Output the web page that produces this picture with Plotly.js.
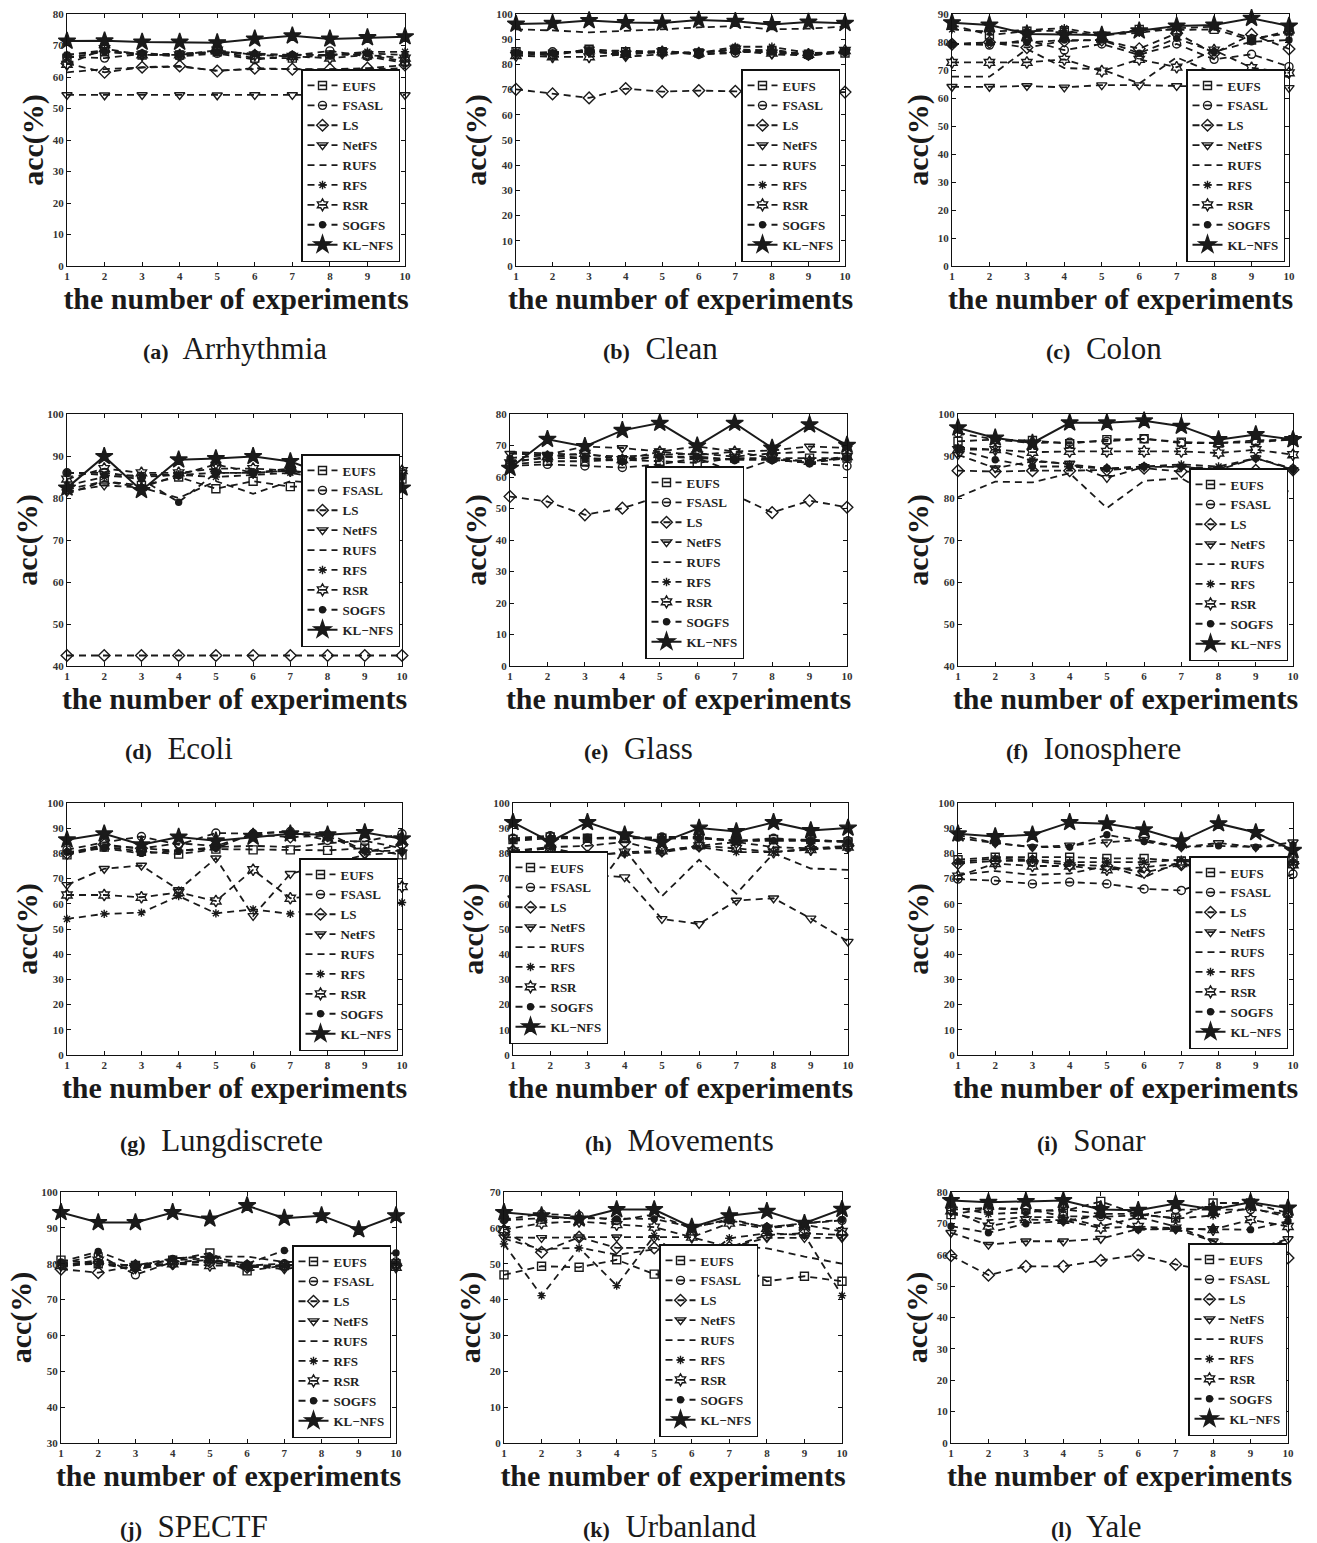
<!DOCTYPE html>
<html>
<head>
<meta charset="utf-8">
<script src="https://cdn.plot.ly/plotly-3.0.1.min.js"></script>
<style>
  html, body { margin: 0; padding: 0; background: #ffffff; }
  #chart { width: 1317px; height: 1543px; }
</style>
</head>
<body>
<div id="chart"></div>
<script>
// ---------------- DATA ----------------
const experiments = [1, 2, 3, 4, 5, 6, 7, 8, 9, 10];
const methods = ['EUFS', 'FSASL', 'LS', 'NetFS', 'RUFS', 'RFS', 'RSR', 'SOGFS', 'KL\u2212NFS'];
const panelLabels = ['(a)', '(b)', '(c)', '(d)', '(e)', '(f)', '(g)', '(h)', '(i)', '(j)', '(k)', '(l)'];
const datasetNames = ['Arrhythmia', 'Clean', 'Colon', 'Ecoli', 'Glass', 'Ionosphere',
                      'Lungdiscrete', 'Movements', 'Sonar', 'SPECTF', 'Urbanland', 'Yale'];
const xTitle = 'the number of experiments';
const yTitle = 'acc(%)';

// accuracy (%) per method, rows in the order of `methods`
const accArrhythmia = [
  [66, 68, 67, 67, 68, 66, 66, 67, 67, 65],
  [66.5, 66, 67.3, 66.5, 67.5, 65.5, 66.8, 68.3, 66.5, 64.5],
  [64.3, 61.5, 63.1, 63.5, 61.9, 62.8, 62.5, 62.5, 62.8, 63.8],
  [54.3, 54.2, 54.3, 54.3, 54.2, 54.3, 54.3, 54.2, 54.3, 54.3],
  [61.5, 62.5, 63, 63.3, 62, 62.5, 62.5, 62.3, 62.5, 62.8],
  [67, 68.5, 67, 67.5, 68, 67, 67, 67, 68, 68],
  [64, 69, 67, 67, 68.5, 67, 66.5, 66, 67, 66],
  [67, 68, 67.5, 67, 68, 67.5, 67, 67, 67.5, 67],
  [71.4, 71.5, 71.1, 71.1, 70.9, 72.1, 73.1, 72.1, 72.5, 72.8]
];
const accClean = [
  [85, 84, 86, 85, 85, 84.5, 86, 85.5, 84, 84.5],
  [84, 85, 85, 84, 85, 84, 84.5, 86, 83.5, 85],
  [70.1, 68.3, 66.7, 70.4, 69.2, 69.6, 69.3, 68.7, 68.7, 69.0],
  [84.5, 83.5, 86, 83, 84, 85, 85.5, 84, 83.5, 85],
  [93.9, 93.5, 92.7, 93.2, 93.9, 94.7, 95.2, 93.9, 94.2, 95.0],
  [85, 84.5, 85.5, 85.5, 85, 84.5, 87, 87, 84.5, 85],
  [83.5, 83, 83, 84, 85, 84.5, 86, 84.5, 84, 85.5],
  [84.5, 84.5, 85, 84.5, 85.5, 84, 85, 85, 84, 85],
  [96.0, 96.3, 97.4, 96.6, 96.4, 97.6, 97.1, 95.8, 96.8, 96.3]
];
const accColon = [
  [86.1, 82.5, 83.9, 84, 82.1, 84.5, 84.3, 84.5, 80.7, 84],
  [79.3, 78.9, 80.7, 77.1, 79.3, 75.4, 79.3, 73.8, 75.6, 71.2],
  [79.2, 79.9, 78.0, 80.4, 80.7, 77.6, 83.1, 76, 82.7, 77.5],
  [64.0, 64.0, 64.3, 63.8, 64.6, 64.6, 64.3, 64.0, 64.3, 63.6],
  [67.6, 67.6, 77.5, 70.7, 70.2, 65.2, 74.5, 68.9, 69.5, 67.5],
  [84.5, 83.7, 84.3, 84.9, 82.5, 83.3, 84.9, 85.5, 81.3, 83.1],
  [72.7, 72.7, 72.7, 73.8, 69.6, 73.8, 71.0, 77.1, 70.8, 69.0],
  [79.2, 79.8, 79.8, 80.7, 80.7, 76, 81.3, 76.5, 80.1, 80.7],
  [86.9, 86.1, 82.9, 82.6, 82.5, 84.0, 85.7, 86.1, 88.5, 85.7]
];
const accEcoli = [
  [82, 84, 83, 85, 82.2, 84, 82.7, 82.7, 82, 84.5],
  [86, 86, 85, 85.5, 86, 86, 86.5, 85.5, 86, 86],
  [42.5, 42.5, 42.5, 42.5, 42.5, 42.5, 42.5, 42.5, 42.5, 42.5],
  [81.5, 83, 82.5, 85.5, 88, 86, 87, 85, 85, 86],
  [81, 84, 82.5, 80, 84, 81, 84, 83.5, 84, 84],
  [83, 85, 85.5, 85.5, 85, 85.5, 86, 84.5, 85, 85.5],
  [84.5, 87, 86, 86, 87, 87, 86.5, 85, 85, 86.5],
  [86, 85.5, 84.5, 79, 86, 86, 86.5, 85.5, 85.5, 85],
  [82.4, 89.9, 81.8, 89.1, 89.4, 89.9, 88.7, 85.5, 85.2, 82.4]
];
const accGlass = [
  [64, 65, 65, 65.5, 65, 64.5, 66, 66, 66, 66],
  [63.5, 64, 63.5, 63, 64, 66, 65.5, 65.5, 64.5, 63.5],
  [53.8, 52.2, 48.0, 50.1, 53.8, 53.8, 54.3, 48.7, 52.5, 50.4],
  [67.4, 67.1, 69.7, 69.2, 68.1, 69.7, 68.1, 68.4, 69.7, 69.2],
  [68, 67.5, 67, 66.5, 67, 67.5, 66.5, 67.5, 68, 67.5],
  [65, 66, 66, 65.5, 66.5, 66, 61.5, 65.5, 65, 66],
  [64.5, 66.5, 67.5, 65.5, 68, 67, 68, 66, 65, 66.5],
  [66, 67, 66, 65, 66.5, 66.5, 65.5, 65.5, 64.5, 66],
  [62.8, 72.0, 69.7, 74.8, 77.1, 69.9, 77.1, 69.2, 76.6, 70.1]
];
const accIonosphere = [
  [93.5, 93.9, 93.7, 92.9, 93.9, 94.1, 93.3, 93.1, 93.7, 93.9],
  [95.5, 93.9, 93.1, 93.3, 93.5, 94.1, 93.1, 93.1, 93.3, 93.9],
  [86.5, 86.3, 86.5, 86.5, 86.7, 87.1, 86.3, 86.3, 86.6, 86.7],
  [90.3, 87.1, 88.7, 88.2, 84.8, 87.4, 87.4, 86.7, 89.5, 86.7],
  [80.2, 83.9, 83.7, 85.9, 77.6, 84.1, 84.7, 79.8, 83.5, 81.3],
  [92, 91.5, 89, 88, 87, 87.5, 88, 87.5, 89.5, 87],
  [91.5, 91.5, 90.9, 91.1, 91.1, 91.1, 91.1, 90.7, 91.5, 90.3],
  [91.5, 89.1, 87.5, 87.5, 87, 87.5, 87.5, 87, 89.5, 86.8],
  [96.7, 94.3, 93.1, 97.9, 97.9, 98.4, 97.1, 93.9, 95.1, 93.9]
];
const accLungdiscrete = [
  [79.4, 82.5, 80.8, 79.7, 81.7, 81.4, 81.4, 81.2, 82.1, 79.4],
  [81.4, 84.4, 86.7, 83.4, 88.1, 87.8, 88.7, 85.1, 84.7, 87.8],
  [80, 83.5, 82, 84, 83, 87.5, 86.5, 87, 80.5, 83.5],
  [67.5, 73.9, 75.2, 65.5, 78.1, 55.2, 71.9, 75.5, 79.4, 80.5],
  [80, 83, 82, 81, 82.5, 83, 82.5, 84, 85, 82],
  [54.0, 56.0, 56.5, 63.1, 56.2, 57.8, 56.0, 59.2, 57.6, 60.5],
  [63.5, 63.5, 62.6, 64.5, 61.1, 73.5, 62.2, 63.5, 67.9, 66.8],
  [80.5, 82, 80, 81, 82, 88, 88.5, 88, 81, 81],
  [85.4, 87.8, 83.4, 86.5, 85.0, 86.5, 87.8, 87.4, 88.3, 85.8]
];
const accMovements = [
  [85.5, 86.5, 86, 86, 86, 86, 85, 85.5, 85.5, 84.5],
  [86, 87, 86, 86, 86.5, 86.5, 85, 86, 85, 85],
  [81, 82.5, 83, 84.5, 81, 83, 84.5, 82.5, 82, 83],
  [62.2, 71.9, 71.5, 70.6, 54.0, 52.0, 61.3, 62.2, 54.2, 45.0],
  [77.5, 79, 62, 81.5, 63, 77.5, 64, 80, 74, 73.5],
  [81, 82, 79.5, 80, 80.5, 82.5, 80.5, 80.5, 82, 82],
  [81, 82, 79, 80.5, 81, 83, 82, 80.5, 81.5, 82.5],
  [85, 86, 86, 86.5, 86, 86, 85, 85, 85, 84.5],
  [92.3, 84.7, 92.3, 87.4, 84.4, 90.1, 88.7, 92.3, 89.1, 90.1]
];
const accSonar = [
  [77.5, 78.5, 78.5, 78.5, 78, 78, 77, 76, 76, 77],
  [69.8, 69.2, 67.9, 68.6, 67.9, 65.9, 65.3, 70.4, 66.4, 71.8],
  [76, 77, 77, 75.5, 75, 72.5, 75.5, 74, 76, 76],
  [87.4, 84.1, 82.5, 83.2, 84.4, 85.4, 82.5, 84.1, 82.5, 84.4],
  [71.5, 73, 71.5, 72, 75, 70.5, 77, 73, 73.5, 76.5],
  [76.5, 78, 77.5, 76.5, 76.5, 76.5, 77.5, 77, 75.5, 76.5],
  [71, 76, 75, 75, 73.5, 74.5, 76, 73.5, 76, 75.5],
  [86.1, 84.1, 82.5, 82.5, 87.4, 84.7, 82.5, 83.0, 82.5, 83.4],
  [87.8, 86.7, 87.4, 92.3, 91.8, 89.4, 85.0, 91.8, 88.3, 81.2]
];
const accSPECTF = [
  [81, 80, 79.5, 81, 83, 78, 79.5, 80, 80, 80],
  [80, 82.5, 76.9, 80.5, 81, 79.5, 80, 77.4, 80.5, 80.5],
  [78.5, 77.5, 79.5, 80, 80.5, 79, 79.5, 80, 80, 79.5],
  [79.5, 80, 78.5, 80, 81, 79.5, 78.5, 80, 79.5, 79.5],
  [79, 80.5, 78, 81.5, 82, 82, 80.5, 80.5, 79, 80],
  [80, 80, 79.5, 81, 81.5, 79, 79.5, 80, 80.5, 80],
  [79.5, 81, 79, 80, 79.5, 79.5, 79.5, 80, 79.5, 79],
  [80.5, 83.4, 79.5, 81.5, 82, 80, 83.7, 82.7, 82.0, 83.0],
  [94.3, 91.5, 91.5, 94.3, 92.5, 96.2, 92.7, 93.4, 89.5, 93.4]
];
const accUrbanland = [
  [46.9, 49.3, 49.0, 51.1, 47.1, 46.0, 51.9, 45.1, 46.5, 45.1],
  [62.3, 63.9, 63.4, 62.1, 63.7, 59.9, 62.5, 60.1, 61.2, 62.1],
  [59, 53.2, 57.4, 54.4, 54.4, 53.7, 54.6, 58, 58.5, 58],
  [57.4, 57.2, 57.4, 57.4, 57.2, 57.4, 54.6, 57.2, 57.2, 57.2],
  [57, 54, 54.5, 52.5, 54, 54, 55, 54.3, 52, 50],
  [55.5, 41.1, 54.4, 43.9, 57.8, 49.1, 57.1, 58.5, 58, 41.1],
  [59.5, 61.3, 61.8, 60.9, 60.2, 57.4, 61.3, 59.9, 60.9, 59.0],
  [62.1, 62.7, 62.7, 62.5, 62.5, 60.2, 62.1, 60.2, 61.3, 62.3],
  [64.3, 63.4, 62.5, 65.1, 65.1, 60.2, 63.4, 64.6, 61.3, 65.2]
];
const accYale = [
  [72.8, 74.7, 74.4, 73.9, 77.0, 72.8, 71.7, 76.5, 76.5, 73.3],
  [74.4, 74.9, 74.6, 72.3, 72.1, 72.5, 74.4, 74.4, 74.4, 73.0],
  [59.7, 53.5, 56.3, 56.3, 58.2, 59.9, 56.9, 54.7, 59.0, 59.0],
  [67.0, 63.2, 64.3, 64.3, 65.1, 68.2, 68.2, 64.3, 61.4, 65.0],
  [73, 71, 72, 72, 69, 72, 69, 64.5, 60, 65],
  [75.5, 73, 73.5, 74.5, 73, 73, 71.5, 72.5, 75, 72],
  [74, 69.1, 71.2, 71, 68.5, 69, 68.5, 68, 71.2, 69],
  [69.1, 67.0, 69.9, 70.7, 72.5, 68.0, 68.2, 68.0, 68.0, 70.7],
  [77.3, 76.7, 77.0, 77.3, 74.4, 74.2, 76.3, 74.4, 76.7, 74.9]
];
const yRanges = [[0, 80], [0, 100], [0, 90], [40, 100], [0, 80], [40, 100],
                 [0, 100], [0, 100], [0, 100], [30, 100], [0, 70], [0, 80]];

const allAcc = [accArrhythmia, accClean, accColon, accEcoli, accGlass, accIonosphere,
                accLungdiscrete, accMovements, accSonar, accSPECTF, accUrbanland, accYale];

// ---------------- LAYOUT GEOMETRY (pixels) ----------------
const W = 1317, H = 1543;
// plot boxes [left, right, top, bottom]
const boxes = [
  [67, 405, 14, 266], [516, 845, 14, 266], [952, 1289, 14, 266],
  [67, 402, 414, 666], [510, 847, 414, 666], [958, 1293, 414, 666],
  [67, 402, 803, 1055], [513, 848, 803, 1055], [958, 1293, 803, 1055],
  [61, 396, 1192, 1443], [504, 842, 1192, 1443], [951, 1288, 1192, 1443]
];
// legend bottom-right corners
const legendCorners = [
  [400, 262], [840, 262], [1285, 262],
  [400, 647], [744, 659], [1288, 661],
  [398, 1051], [608, 1044], [1288, 1049],
  [391, 1438], [758, 1437], [1287, 1436]
];
// caption centres
const captionPos = [
  [235, 348], [660, 348], [1104, 348],
  [179, 748], [638, 748], [1093, 748],
  [221, 1140], [679, 1140], [1091, 1140],
  [194, 1526], [670, 1526], [1096, 1526]
];

const serif = '"Liberation Serif", "Times New Roman", Times, serif';
const ink = '#1a1a1a';
const markerStyles = [
  {symbol: 'square-open', size: 8},
  {symbol: 'circle-open', size: 8},
  {symbol: 'diamond-open', size: 9},
  {symbol: 'triangle-down-open', size: 9},
  null,
  {symbol: 'asterisk-open', size: 7},
  {symbol: 'hexagram-open', size: 9},
  {symbol: 'circle', size: 6},
  {symbol: 'star', size: 13}
];

const traces = [];
const layout = {
  width: W, height: H,
  margin: {l: 0, r: 0, t: 0, b: 0},
  paper_bgcolor: '#ffffff',
  plot_bgcolor: '#ffffff',
  font: {family: serif, color: ink},
  showlegend: true,
  annotations: []
};

allAcc.forEach((acc, i) => {
  const n = i === 0 ? '' : String(i + 1);
  const xa = 'x' + n, ya = 'y' + n;
  const legId = 'legend' + n;
  const [l, r, t, b] = boxes[i];

  methods.forEach((m, k) => {
    const ms = markerStyles[k];
    const isKL = k === methods.length - 1;
    const tr = {
      type: 'scatter',
      x: experiments,
      y: acc[k],
      xaxis: xa, yaxis: ya,
      legend: legId,
      name: m,
      mode: ms ? 'lines+markers' : 'lines',
      cliponaxis: false,
      line: {color: ink, width: isKL ? 2 : 1.8, dash: isKL ? 'solid' : '7px,5px'},
      hoverinfo: 'x+y+name'
    };
    if (ms) {
      tr.marker = {symbol: ms.symbol, size: ms.size, color: ink,
                   line: {color: ink, width: 1.4}};
    }
    traces.push(tr);
  });

  const tickFont = {family: serif, size: 11, weight: 'bold', color: '#333'};
  const titleFont = {family: serif, size: 30, weight: 'bold', color: ink};
  layout['xaxis' + n] = {
    domain: [l / W, r / W],
    anchor: ya,
    range: [1, 10],
    tickvals: experiments,
    ticks: 'inside', ticklen: 4, tickcolor: '#111',
    showline: true, linecolor: '#111', linewidth: 1.2, mirror: 'ticks',
    showgrid: false, zeroline: false,
    tickfont: tickFont,
    title: {text: xTitle, font: titleFont, standoff: 0}
  };
  layout['yaxis' + n] = {
    domain: [1 - b / H, 1 - t / H],
    anchor: xa,
    range: yRanges[i],
    dtick: 10,
    ticks: 'inside', ticklen: 4, tickcolor: '#111',
    showline: true, linecolor: '#111', linewidth: 1.2, mirror: 'ticks',
    showgrid: false, zeroline: false,
    tickfont: tickFont,
    title: {text: yTitle, font: titleFont, standoff: 0}
  };
  const [lx, ly] = legendCorners[i];
  layout[legId] = {
    x: lx / W, y: 1 - ly / H,
    xanchor: 'right', yanchor: 'bottom',
    bgcolor: '#ffffff', bordercolor: '#111', borderwidth: 1.5,
    font: {family: serif, size: 13, weight: 'bold', color: '#222'},
    itemwidth: 30, tracegroupgap: 0,
    itemclick: false, itemdoubleclick: false
  };
  const [cx, cy] = captionPos[i];
  layout.annotations.push({
    xref: 'paper', yref: 'paper',
    x: cx / W, y: 1 - cy / H,
    xanchor: 'center', yanchor: 'middle',
    showarrow: false,
    text: '<span style="font-size:22px;font-weight:bold">' + panelLabels[i] + '</span>  ' + datasetNames[i],
    font: {family: serif, size: 31, color: ink}
  });
});

Plotly.newPlot('chart', traces, layout, {displayModeBar: false, staticPlot: false});
</script>
</body>
</html>
